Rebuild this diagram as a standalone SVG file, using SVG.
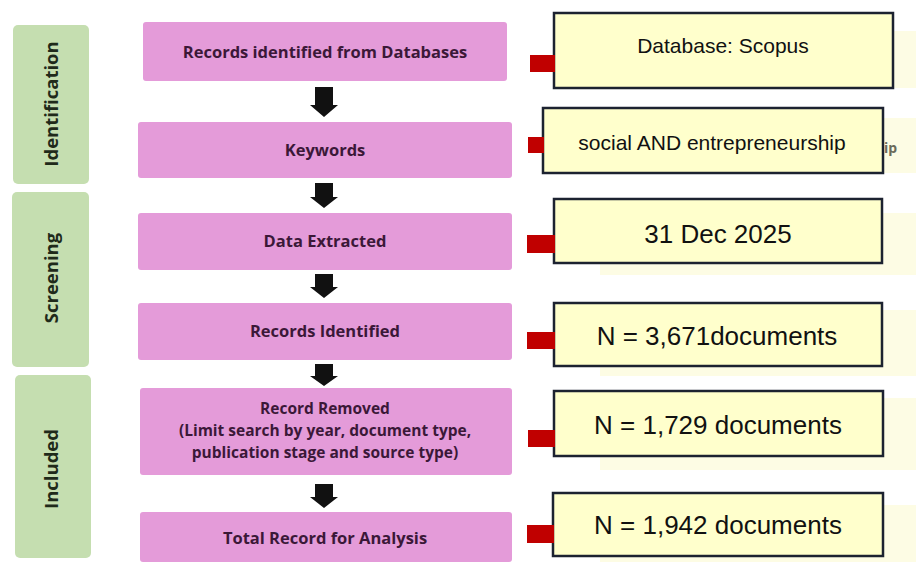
<svg xmlns="http://www.w3.org/2000/svg" width="916" height="562" viewBox="0 0 916 562">
  <style>
    .phase { fill: #c5deb0; }
    .phase-label { font-family: "Open Sans", "Liberation Sans", sans-serif; font-weight: 700; font-size: 18.5px; fill: #1f2a1a; text-anchor: middle; }
    .step { fill: #e49bd9; }
    .step-label { font-family: "Open Sans", "Liberation Sans", sans-serif; font-weight: 700; font-size: 16.5px; fill: #3b1838; text-anchor: middle; }
    .step-label.small { font-size: 15.5px; }
    .ghost { fill: #fdfce4; }
    .ghost-text { font-family: "Open Sans", "Liberation Sans", sans-serif; font-weight: 700; font-size: 14px; fill: #6a6a5a; }
    .note { fill: #ffffcc; stroke: #1c2230; stroke-width: 2.5; }
    .note-label { font-family: "Liberation Sans", Arial, sans-serif; fill: #111; text-anchor: middle; }
    .tie { fill: #c00000; }
    .down { fill: #111; }
  </style>

  <rect width="916" height="562" fill="#ffffff"/>

  <!-- faint backing panels behind the notes -->
  <g id="backing">
    <rect class="ghost" x="600" y="31" width="316" height="57"/>
    <rect class="ghost" x="600" y="118" width="316" height="55"/>
    <rect class="ghost" x="600" y="213" width="316" height="62"/>
    <rect class="ghost" x="600" y="310" width="316" height="66"/>
    <rect class="ghost" x="600" y="398" width="316" height="72"/>
    <rect class="ghost" x="600" y="505" width="316" height="57"/>
    <text class="ghost-text" x="884" y="153">ip</text>
  </g>

  <!-- phase bands -->
  <g id="phase-identification">
    <rect class="phase" x="13" y="25" width="76" height="159" rx="5"/>
    <text class="phase-label" transform="translate(58,104) rotate(-90)">Identification</text>
  </g>
  <g id="phase-screening">
    <rect class="phase" x="12" y="192" width="77" height="175" rx="5"/>
    <text class="phase-label" transform="translate(58,278) rotate(-90)">Screening</text>
  </g>
  <g id="phase-included">
    <rect class="phase" x="15" y="375" width="76" height="183" rx="5"/>
    <text class="phase-label" transform="translate(58,469) rotate(-90)">Included</text>
  </g>

  <!-- process steps -->
  <g id="step-databases">
    <rect class="step" x="143" y="22" width="364" height="59" rx="3"/>
    <text class="step-label" x="325" y="58">Records identified from Databases</text>
  </g>
  <g id="step-keywords">
    <rect class="step" x="138" y="122" width="374" height="56" rx="3"/>
    <text class="step-label" x="325" y="156">Keywords</text>
  </g>
  <g id="step-extracted">
    <rect class="step" x="138" y="213" width="374" height="57" rx="3"/>
    <text class="step-label" x="325" y="247">Data Extracted</text>
  </g>
  <g id="step-identified">
    <rect class="step" x="138" y="303" width="374" height="57" rx="3"/>
    <text class="step-label" x="325" y="337">Records Identified</text>
  </g>
  <g id="step-removed">
    <rect class="step" x="140" y="388" width="372" height="87" rx="3"/>
    <text class="step-label small" x="325" y="414">Record Removed</text>
    <text class="step-label small" x="325" y="436">(Limit search by year, document type,</text>
    <text class="step-label small" x="325" y="458">publication stage and source type)</text>
  </g>
  <g id="step-total">
    <rect class="step" x="140" y="512" width="372" height="50" rx="3"/>
    <text class="step-label" x="325" y="544">Total Record for Analysis</text>
  </g>

  <!-- notes -->
  <g id="note-database">
    <rect class="note" x="554" y="13" width="339" height="75"/>
    <text class="note-label" x="723" y="53" font-size="21">Database: Scopus</text>
  </g>
  <g id="note-keywords">
    <rect class="note" x="543" y="108" width="340" height="65"/>
    <text class="note-label" x="712" y="150" font-size="21">social AND entrepreneurship</text>
  </g>
  <g id="note-date">
    <rect class="note" x="554" y="199" width="328" height="64"/>
    <text class="note-label" x="718" y="243" font-size="26">31 Dec 2025</text>
  </g>
  <g id="note-identified">
    <rect class="note" x="554" y="303" width="328" height="63"/>
    <text class="note-label" x="717" y="345" font-size="26">N = 3,671documents</text>
  </g>
  <g id="note-removed">
    <rect class="note" x="554" y="391" width="329" height="65"/>
    <text class="note-label" x="718" y="434" font-size="26">N = 1,729 documents</text>
  </g>
  <g id="note-total">
    <rect class="note" x="553" y="493" width="330" height="63"/>
    <text class="note-label" x="718" y="534" font-size="26">N = 1,942 documents</text>
  </g>

  <!-- connectors: flow arrows and ties to notes -->
  <g id="connectors">
    <g id="flow">
      <path class="down" d="M315,87 H333 V105 H338 L324,117 L310,105 H315 Z"/>
      <path class="down" d="M315,183 H333 V197 H338 L324,208 L310,197 H315 Z"/>
      <path class="down" d="M315,274 H333 V287 H338 L324,298 L310,287 H315 Z"/>
      <path class="down" d="M315,364 H333 V376 H338 L324,386 L310,376 H315 Z"/>
      <path class="down" d="M315,484 H333 V497 H338 L324,508 L310,497 H315 Z"/>
    </g>
    <g id="ties">
      <rect class="tie" x="530" y="55" width="25" height="17"/>
      <rect class="tie" x="528" y="137" width="16" height="16"/>
      <rect class="tie" x="527" y="235" width="28" height="18"/>
      <rect class="tie" x="527" y="332" width="28" height="17"/>
      <rect class="tie" x="528" y="430" width="27" height="17"/>
      <rect class="tie" x="527" y="525" width="27" height="18"/>
    </g>
  </g>
</svg>
